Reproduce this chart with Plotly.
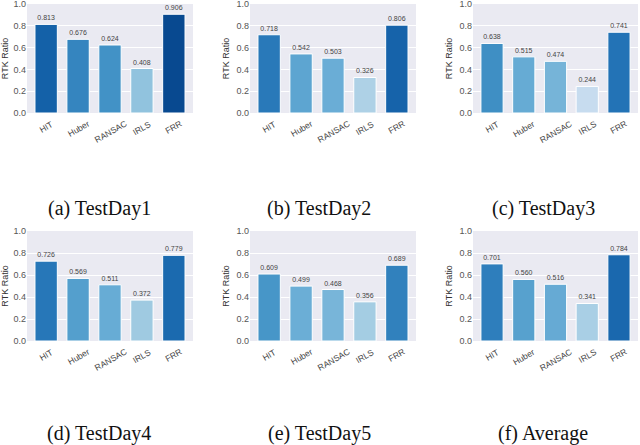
import plotly.graph_objects as go

methods = ["HIT", "Huber", "RANSAC", "IRLS", "FRR"]
testday1 = [0.813, 0.676, 0.624, 0.408, 0.906]
testday2 = [0.718, 0.542, 0.503, 0.326, 0.806]
testday3 = [0.638, 0.515, 0.474, 0.244, 0.741]
testday4 = [0.726, 0.569, 0.511, 0.372, 0.779]
testday5 = [0.609, 0.499, 0.468, 0.356, 0.689]
average = [0.701, 0.560, 0.516, 0.341, 0.784]
captions = ["(a) TestDay1", "(b) TestDay2", "(c) TestDay3",
            "(d) TestDay4", "(e) TestDay5", "(f) Average"]
y_ticks = [0.0, 0.2, 0.4, 0.6, 0.8, 1.0]
y_title = "RTK Ratio"

series = [testday1, testday2, testday3, testday4, testday5, average]

W, H = 640, 445
col_px = [(27, 193), (250, 416), (473, 638)]
row_px = [(4, 113), (231, 341)]
cap_x_px = [99, 319, 543]
cap_y_px = [208, 433]

SANS = "Liberation Sans, Arial, sans-serif"

fig = go.Figure()
annotations = []
layout = {}

for i, vals in enumerate(series):
    r, c = divmod(i, 3)
    n = i + 1
    xa = "x" if n == 1 else f"x{n}"
    ya = "y" if n == 1 else f"y{n}"
    fig.add_trace(go.Bar(
        x=methods, y=vals, xaxis=xa, yaxis=ya,
        width=0.7,
        marker=dict(color=vals, colorscale="Blues", cmin=0, cmax=1,
                    line=dict(color="white", width=1)),
        texttemplate="%{y:.3f}", textposition="outside",
        textfont=dict(family=SANS, size=7, color="#444"),
        constraintext="none", cliponaxis=False, showlegend=False,
        hoverinfo="skip",
    ))
    x0, x1 = col_px[c]
    y0, y1 = row_px[r]
    xkey = "xaxis" if n == 1 else f"xaxis{n}"
    ykey = "yaxis" if n == 1 else f"yaxis{n}"
    layout[xkey] = dict(
        domain=[x0 / W, x1 / W], anchor=ya, range=[-0.6, 4.6],
        showticklabels=False, showgrid=False, zeroline=False, showline=False,
        ticks="", fixedrange=True,
    )
    layout[ykey] = dict(
        domain=[1 - y1 / H, 1 - y0 / H], anchor=xa, range=[0, 1.0001],
        tickvals=y_ticks, tickformat=".1f", ticklabeloverflow="allow",
        showgrid=True, gridcolor="white", gridwidth=1,
        zeroline=False, showline=False, ticks="",
        tickfont=dict(family=SANS, size=9, color="#555"),
        title=dict(text=y_title, standoff=5,
                   font=dict(family=SANS, size=9, color="#333")),
        automargin=False, fixedrange=True,
    )
    for m in methods:
        annotations.append(dict(
            x=m, y=0, xref=xa, yref=ya, text=m, showarrow=False,
            xanchor="center", yanchor="top", yshift=-3, textangle=-30,
            font=dict(family=SANS, size=8.5, color="#444"),
        ))
    annotations.append(dict(
        x=cap_x_px[c] / W, y=1 - cap_y_px[r] / H, xref="paper", yref="paper",
        text=captions[i], showarrow=False, xanchor="center", yanchor="middle",
        font=dict(family="Liberation Serif, Times New Roman, serif", size=20, color="#111"),
    ))

fig.update_layout(
    width=W, height=H, margin=dict(l=0, r=0, t=0, b=0),
    paper_bgcolor="white", plot_bgcolor="#eaeaf2",
    annotations=annotations, bargap=0.3,
    **layout,
)

fig.write_html("out.html", config={"displayModeBar": False},
               post_script="document.body.style.margin='0';document.body.style.overflow='hidden';")
